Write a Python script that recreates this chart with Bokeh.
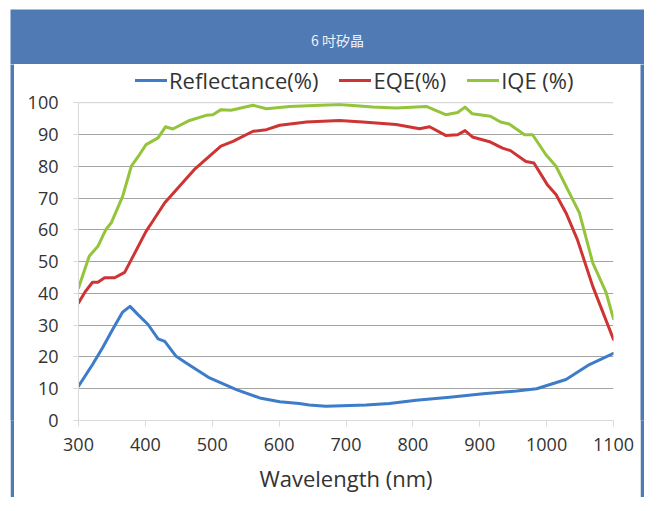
from bokeh.plotting import figure
from bokeh.models import Legend, LegendItem, Label, Span, FixedTicker, Range1d
from bokeh.layouts import column, row
from bokeh.embed import file_html
from bokeh.resources import INLINE
from bokeh.core.properties import value

TITLE = "6 吋矽晶"
X_LABEL = "Wavelength (nm)"
X_TICKS = [300, 400, 500, 600, 700, 800, 900, 1000, 1100]
Y_TICKS = [0, 10, 20, 30, 40, 50, 60, 70, 80, 90, 100]
Y_VIEW_TOP = 112  # extra room above 100 holds the legend

refl_wl = [300, 321, 336, 351, 366, 377, 389, 404, 419, 429, 446, 461, 496, 536,
           571, 601, 630, 645, 670, 730, 765, 805, 855, 905, 955, 985, 1029, 1064, 1100]
refl_val = [10.8, 17.6, 22.9, 28.6, 34.1, 35.9, 33.3, 30.2, 25.7, 24.9, 20.2, 18.1, 13.4, 9.7,
            7.1, 5.9, 5.35, 4.9, 4.5, 4.9, 5.35, 6.4, 7.3, 8.4, 9.3, 10.0, 12.9, 17.6, 21.1]

eqe_wl = [300, 310, 321, 329, 339, 354, 369, 379, 401, 411, 429, 451, 473, 498, 513, 531,
          561, 581, 601, 641, 690, 725, 775, 810, 825, 849, 867, 878, 889, 916, 934, 946,
          969, 981, 1001, 1014, 1029, 1046, 1069, 1100]
eqe_val = [37.0, 40.5, 43.5, 43.5, 44.9, 44.9, 46.6, 50.6, 59.5, 62.7, 68.5, 73.7, 78.9, 83.6, 86.3, 87.8,
           91.0, 91.5, 92.9, 93.9, 94.4, 93.9, 93.1, 91.8, 92.4, 89.7, 89.9, 91.2, 89.2, 87.6, 85.7, 84.9,
           81.5, 81.0, 74.2, 71.1, 65.3, 56.9, 42.2, 25.5]

iqe_wl = [300, 316, 329, 341, 349, 366, 379, 391, 401, 419, 430, 441, 466, 491, 501, 513, 528,
          561, 581, 616, 690, 740, 775, 820, 849, 867, 878, 889, 916, 931, 944, 967, 979,
          999, 1014, 1034, 1049, 1069, 1089, 1100]
iqe_val = [41.7, 51.7, 54.8, 60.1, 62.2, 70.5, 80.0, 83.6, 86.8, 88.9, 92.4, 91.7, 94.4, 96.0, 96.2, 97.8, 97.6,
           99.2, 98.1, 98.8, 99.4, 98.6, 98.3, 98.8, 96.2, 96.9, 98.6, 96.5, 95.7, 93.9, 93.3, 89.9, 89.9,
           83.6, 80.0, 71.6, 65.3, 49.6, 40.2, 32.0]

SERIES = [("Reflectance(%)", refl_wl, refl_val, "#3d7cc9"),
          ("EQE(%)", eqe_wl, eqe_val, "#cf3434"),
          ("IQE (%)", iqe_wl, iqe_val, "#94c43c")]

FRAME_BLUE = "#4f7ab3"
FONT = "Open Sans"

# header
header = figure(width=634, height=55, output_backend="svg", toolbar_location=None,
                x_axis_location=None, y_axis_location=None, min_border=0,
                background_fill_color=FRAME_BLUE, border_fill_color=FRAME_BLUE,
                outline_line_color=None)
header.grid.visible = False
header.add_layout(Label(x=327, y=25, x_units="screen", y_units="screen", text=TITLE,
                        text_font="Noto Sans CJK TC", text_font_size="14px",
                        text_color="#eef2f8", text_align="center", text_baseline="middle"))

# main chart
p = figure(width=626, height=433, output_backend="svg", toolbar_location=None,
           x_range=Range1d(X_TICKS[0], X_TICKS[-1]), y_range=Range1d(Y_TICKS[0], Y_VIEW_TOP),
           min_border_left=64, min_border_right=27, min_border_top=0, min_border_bottom=77,
           background_fill_color="white", border_fill_color="white", outline_line_color=None)

items = []
for name, xs, ys, color in SERIES:
    r = p.line(xs, ys, line_color=color, line_width=3, line_join="round", line_cap="round")
    items.append(LegendItem(label=name, renderers=[r]))

p.xgrid.visible = False
p.ygrid.ticker = FixedTicker(ticks=Y_TICKS[1:-1])
p.ygrid.grid_line_color = "#a4a4a4"
p.ygrid.grid_line_width = 1.2
p.ygrid.bounds = (X_TICKS[0], X_TICKS[-1])
p.add_layout(Span(location=Y_TICKS[-1], dimension="width", line_color="#d9d9d9", line_width=1.2))

p.xaxis.ticker = FixedTicker(ticks=X_TICKS)
p.yaxis.ticker = FixedTicker(ticks=Y_TICKS)
p.yaxis.bounds = (Y_TICKS[0], Y_TICKS[-1])
for ax in (p.xaxis, p.yaxis):
    ax.axis_line_color = "#d9d9d9"
    ax.major_tick_line_color = "#d9d9d9"
    ax.minor_tick_line_color = None
    ax.major_tick_in = 0
    ax.major_label_text_font = FONT
    ax.major_label_text_font_size = "18px"
    ax.major_label_text_color = "#333333"
p.xaxis.major_tick_out = 6
p.yaxis.major_tick_out = 5
p.yaxis.major_label_standoff = 15
p.xaxis.major_label_standoff = 11
p.xaxis.axis_label = X_LABEL
p.xaxis.axis_label_text_font = FONT
p.xaxis.axis_label_text_font_size = "22px"
p.xaxis.axis_label_text_font_style = "normal"
p.xaxis.axis_label_text_color = "#333333"
p.xaxis.axis_label_standoff = 9

legend = Legend(items=items, orientation="horizontal", location=(57, 325),
                label_text_font=FONT, label_text_font_size="22px", label_text_color="#333333",
                label_height=20, glyph_width=32, glyph_height=20, label_standoff=2, spacing=21,
                padding=0, margin=0, border_line_color=None, background_fill_alpha=0)
p.add_layout(legend)

def strip(w, h):
    s = figure(width=w, height=h, output_backend="svg", toolbar_location=None,
               x_axis_location=None, y_axis_location=None, min_border=0,
               background_fill_color=FRAME_BLUE, border_fill_color=FRAME_BLUE,
               outline_line_color=None)
    s.grid.visible = False
    return s

layout = column(header, row(strip(4, 433), p, strip(4, 433)), strip(634, 4),
                margin=(9, 0, 0, 10))

open("out.html", "w").write(file_html(layout, INLINE))
